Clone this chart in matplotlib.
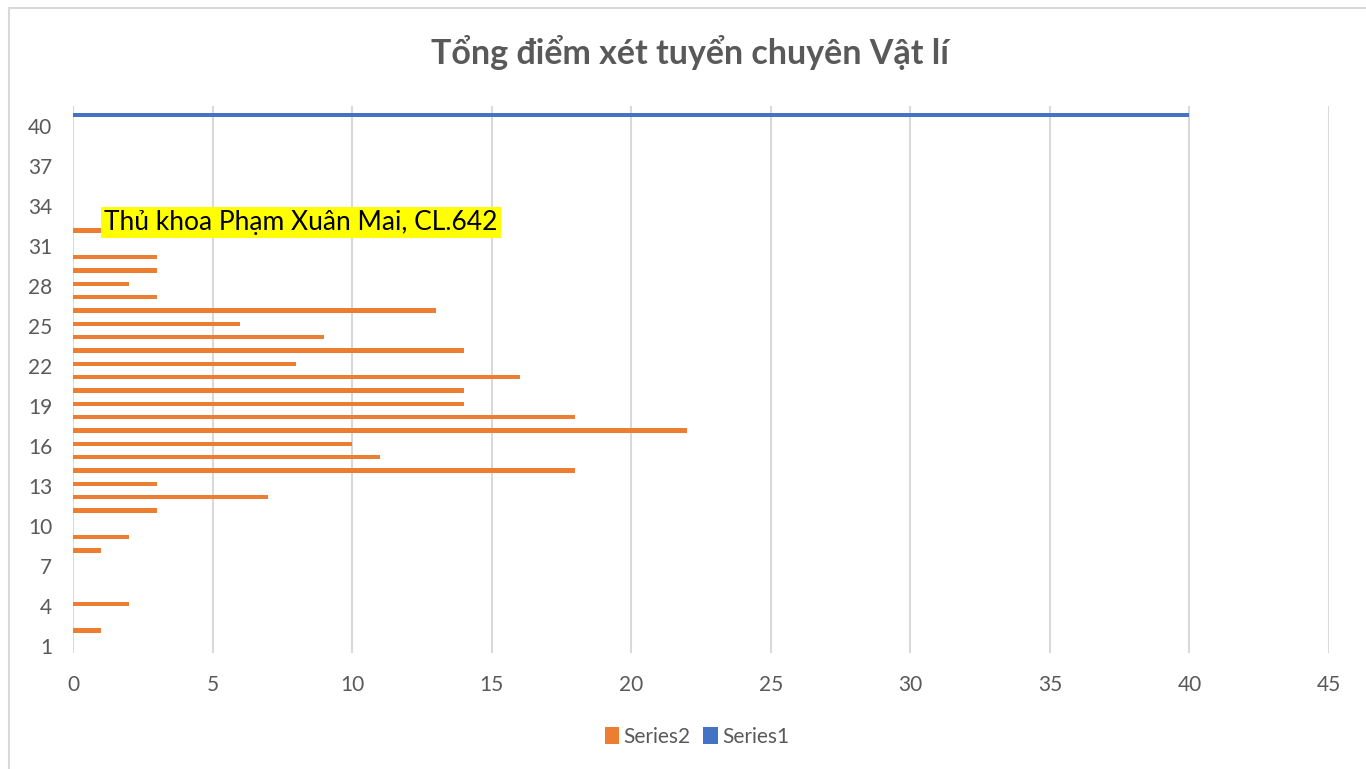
import matplotlib.pyplot as plt
from matplotlib.patches import Rectangle

# Điểm (trục danh mục) và số học sinh
diem = list(range(1, 42))
series2 = [0, 1, 0, 2, 0, 0, 0, 1, 2, 0,
           3, 7, 3, 18, 11, 10, 22, 18, 14, 14,
           16, 8, 14, 9, 6, 13, 3, 2, 3, 3,
           0, 1, 0, 0, 0, 0, 0, 0, 0, 0, 0]
series1 = [0] * 40 + [40]
x_ticks = [0, 5, 10, 15, 20, 25, 30, 35, 40, 45]
y_ticks = list(range(1, 42, 3))

orange = '#ED7D31'
blue = '#4472C4'
gray_text = '#595959'

plt.rcParams['font.family'] = ['Lato', 'DejaVu Sans']

fig = plt.figure(figsize=(13.66, 7.69), dpi=100)
ax = fig.add_axes([73 / 1366, 1 - 652.7 / 769, (1329 - 73) / 1366, (652.7 - 106) / 769])

# khung biểu đồ
fig.patches.append(Rectangle((9 / 1366, -0.05), 1.1, 1 - 8 / 769 + 0.05,
                             transform=fig.transFigure, fill=False,
                             edgecolor='#d9d9d9', linewidth=1.5))

h = 0.31
ax.barh([d - 0.16 for d in diem], series1, height=h, color=blue, label='Series1', zorder=3)
ax.barh([d + 0.16 for d in diem], series2, height=h, color=orange, label='Series2', zorder=3)

ax.set_xlim(0, 45)
ax.set_ylim(0.5, 41.5)
ax.set_xticks(x_ticks)
ax.set_yticks(y_ticks)
ax.tick_params(axis='both', length=0, labelsize=15, colors=gray_text)
ax.tick_params(axis='x', pad=16)
ax.tick_params(axis='y', pad=15)
ax.grid(axis='x', color='#d9d9d9', linewidth=1.5, zorder=0)
for s in ax.spines.values():
    s.set_visible(False)

# nhãn thủ khoa
idx = 31
ax.text(series2[idx] + 0.12, diem[idx] + 0.16 + 0.6, 'Thủ khoa Phạm Xuân Mai, CL.642',
        fontsize=19, color='black', va='center', ha='left', zorder=4,
        bbox=dict(facecolor='yellow', edgecolor='none', pad=2))

fig.text(690 / 1366, 1 - 52 / 769, 'Tổng điểm xét tuyển chuyên Vật lí',
         fontsize=24.5, fontweight='bold', color=gray_text, ha='center', va='center')

handles, labels = ax.get_legend_handles_labels()
fig.legend(handles[::-1], labels[::-1], loc='center', bbox_to_anchor=(697 / 1366, 1 - 737 / 769),
           ncol=2, frameon=False, fontsize=15, labelcolor=gray_text,
           handlelength=0.7, handleheight=0.9, handletextpad=0.2, columnspacing=0.6)

fig.savefig('out.png', dpi=100)
